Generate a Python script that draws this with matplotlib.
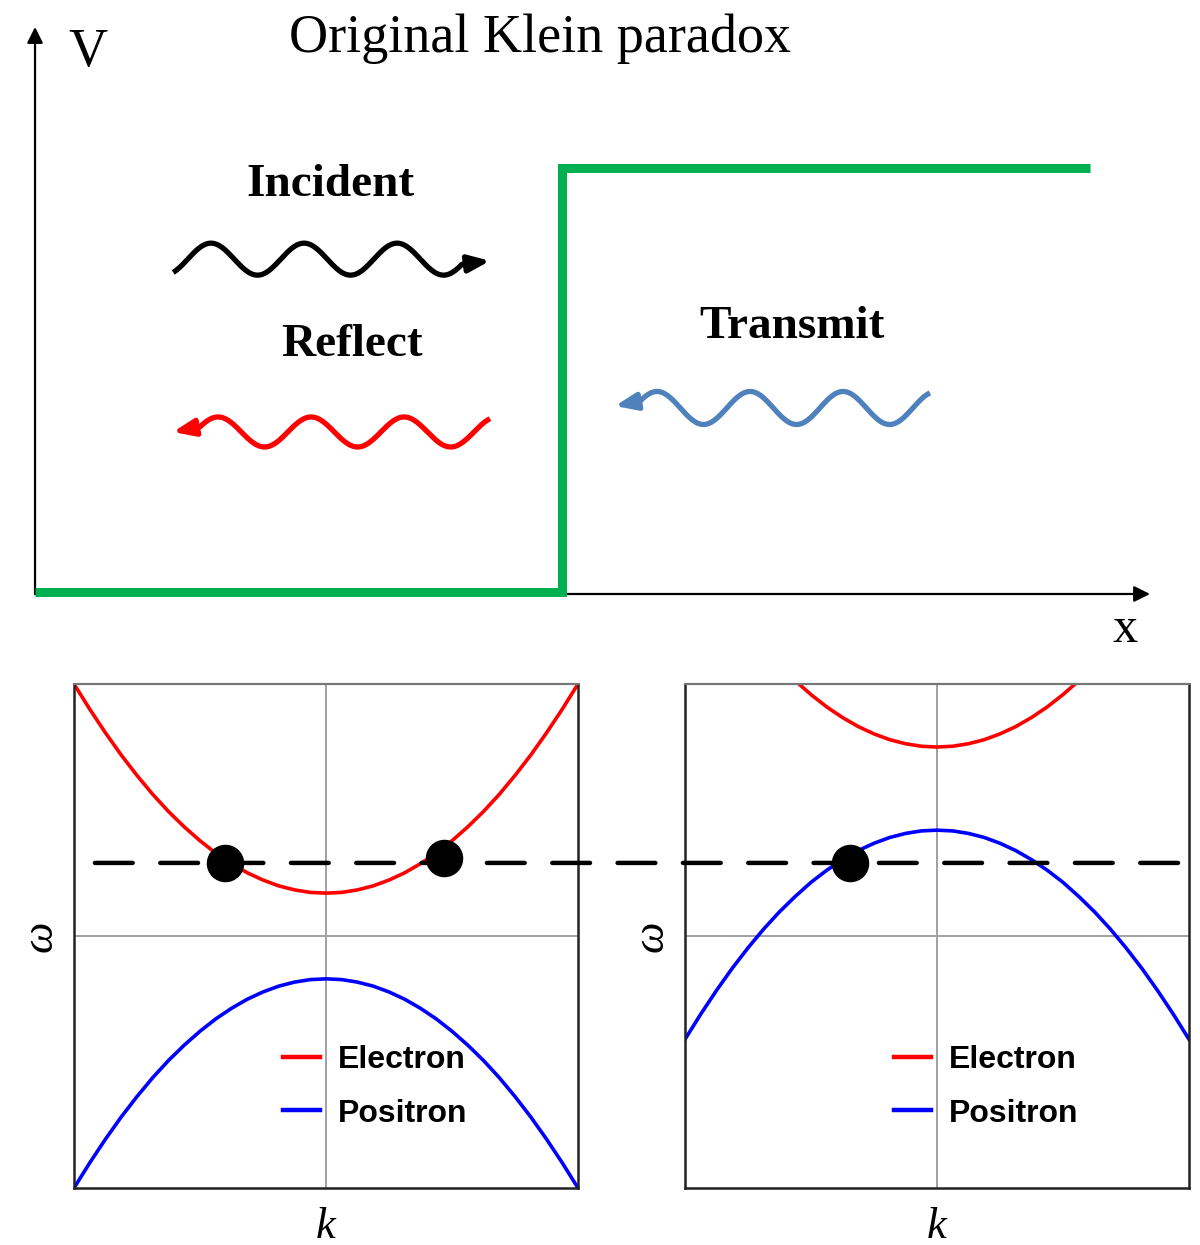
import matplotlib
matplotlib.use("Agg")
import matplotlib.pyplot as plt
from matplotlib.patches import ConnectionPatch
import numpy as np

# potential step (x in units of the drawn length, V in units of V0)
step_x = [0.0, 0.5, 0.5, 1.0]
step_v = [0.0, 0.0, 1.0, 1.0]

# dispersion curves
k = [-1.0, -0.9375, -0.875, -0.8125, -0.75, -0.6875, -0.625, -0.5625, -0.5,
     -0.4375, -0.375, -0.3125, -0.25, -0.1875, -0.125, -0.0625, 0.0,
     0.0625, 0.125, 0.1875, 0.25, 0.3125, 0.375, 0.4375, 0.5,
     0.5625, 0.625, 0.6875, 0.75, 0.8125, 0.875, 0.9375, 1.0]
electron_left = [1.000, 0.900, 0.806, 0.718, 0.637, 0.562, 0.494, 0.433, 0.378,
                 0.329, 0.287, 0.251, 0.222, 0.199, 0.183, 0.173, 0.170,
                 0.173, 0.183, 0.199, 0.222, 0.251, 0.287, 0.329, 0.378,
                 0.433, 0.494, 0.562, 0.637, 0.718, 0.806, 0.900, 1.000]
positron_left = [-1.000, -0.900, -0.806, -0.718, -0.637, -0.562, -0.494, -0.433, -0.378,
                 -0.329, -0.287, -0.251, -0.222, -0.199, -0.183, -0.173, -0.170,
                 -0.173, -0.183, -0.199, -0.222, -0.251, -0.287, -0.329, -0.378,
                 -0.433, -0.494, -0.562, -0.637, -0.718, -0.806, -0.900, -1.000]
electron_right = [1.580, 1.480, 1.386, 1.298, 1.217, 1.142, 1.074, 1.013, 0.958,
                  0.909, 0.867, 0.831, 0.802, 0.779, 0.763, 0.753, 0.750,
                  0.753, 0.763, 0.779, 0.802, 0.831, 0.867, 0.909, 0.958,
                  1.013, 1.074, 1.142, 1.217, 1.298, 1.386, 1.480, 1.580]
positron_right = [-0.410, -0.310, -0.216, -0.128, -0.047, 0.028, 0.096, 0.157, 0.213,
                  0.261, 0.303, 0.339, 0.368, 0.391, 0.407, 0.417, 0.420,
                  0.417, 0.407, 0.391, 0.368, 0.339, 0.303, 0.261, 0.213,
                  0.157, 0.096, 0.028, -0.047, -0.128, -0.216, -0.310, -0.410]
energy_level = 0.29
dots_left_k = [-0.40, 0.47]
dots_left_w = [0.29, 0.31]
dots_right_k = [-0.345]
dots_right_w = [0.29]

serif = "Liberation Serif"
sans = "Liberation Sans"
green = "#00B050"
wave_blue = "#4F81BD"

fig = plt.figure(figsize=(12, 12.45), dpi=100)

# ---- top: Klein step sketch ----
ax0 = fig.add_axes([0, 595 / 1245, 1, 650 / 1245])
ax0.set_xlim(-0.0332, 1.1043)
ax0.set_ylim(-0.1368, 1.3962)
ax0.axis("off")

ax0.annotate("", xy=(0, 1.3325), xytext=(0, -0.0047),
             arrowprops=dict(arrowstyle="-|>", lw=1.6, color="black",
                             mutation_scale=24, shrinkA=0, shrinkB=0))
ax0.annotate("", xy=(1.0569, -0.0047), xytext=(0, -0.0047),
             arrowprops=dict(arrowstyle="-|>", lw=1.6, color="black",
                             mutation_scale=24, shrinkA=0, shrinkB=0))
ax0.plot(step_x, step_v, color=green, lw=6.5, solid_joinstyle="miter",
         solid_capstyle="butt", zorder=3)

ax0.text(0.0502, 1.272, "V", family=serif, fontsize=39, ha="center", va="center")
ax0.text(1.0332, -0.0896, "x", family=serif, fontsize=36, ha="center", va="center")
ax0.text(0.4787, 1.305, "Original Klein paradox", family=serif, fontsize=39,
         ha="center", va="center")
ax0.text(0.2796, 0.960, "Incident", family=serif, fontsize=34, weight="bold",
         ha="center", va="center")
ax0.text(0.3005, 0.5825, "Reflect", family=serif, fontsize=34, weight="bold",
         ha="center", va="center")
ax0.text(0.7175, 0.625, "Transmit", family=serif, fontsize=34, weight="bold",
         ha="center", va="center")


def wave(x0, x1, vc, amp, lam, xpk, tip, color):
    xs = np.linspace(x0, x1, 200)
    ys = vc + amp * np.cos(2 * np.pi * (xs - xpk) / lam)
    ax0.plot(xs, ys, color=color, lw=3.8, solid_capstyle="butt")
    if tip[0] > x1:
        start = (xs[-1], ys[-1])
    else:
        start = (xs[0], ys[0])
    ax0.annotate("", xy=tip, xytext=start,
                 arrowprops=dict(arrowstyle="-|>,head_length=0.75,head_width=0.3",
                                 lw=3.8, color=color,
                                 mutation_scale=17, shrinkA=0, shrinkB=0))


wave(0.131, 0.4047, 0.785, 0.0377, 0.0882, 0.1668, (0.4313, 0.781), "black")
wave(0.1564, 0.4313, 0.3774, 0.0354, 0.0882, 0.1735, (0.1308, 0.3774), "red")
wave(0.5735, 0.8483, 0.434, 0.0389, 0.0882, 0.5896, (0.5498, 0.4387), wave_blue)

# ---- bottom: dispersion panels ----
ax1 = fig.add_axes([74 / 1200, 57 / 1245, 504 / 1200, 504 / 1245])
ax2 = fig.add_axes([685 / 1200, 57 / 1245, 504 / 1200, 504 / 1245])

panels = [(ax1, electron_left, positron_left, dots_left_k, dots_left_w),
          (ax2, electron_right, positron_right, dots_right_k, dots_right_w)]
for ax, e, p, dk, dw in panels:
    ax.set_facecolor("none")
    ax.set_xlim(-1, 1)
    ax.set_ylim(-1, 1)
    ax.set_xticks([])
    ax.set_yticks([])
    ax.axhline(0, color="#a0a0a0", lw=1.4, zorder=1)
    ax.axvline(0, color="#a0a0a0", lw=1.4, zorder=1)
    ax.plot(k, e, color="red", lw=2.6, label="Electron", zorder=2)
    ax.plot(k, p, color="blue", lw=2.6, label="Positron", zorder=2)
    ax.plot(dk, dw, "o", color="black", ms=26, zorder=5)
    for side in ["left", "right", "bottom"]:
        ax.spines[side].set_color("#222222")
        ax.spines[side].set_linewidth(1.8)
    ax.spines["top"].set_color("#777777")
    ax.spines["top"].set_linewidth(1.6)
    ax.set_xlabel("k", fontsize=32, family=serif, style="italic", labelpad=14)
    ax.set_ylabel("ω", fontsize=32, family=serif, style="italic", labelpad=10)
    leg = ax.legend(loc="upper left", bbox_to_anchor=(0.415, 0.284), frameon=False,
                    handlelength=1.15, handletextpad=0.55, labelspacing=0.74,
                    borderpad=0, borderaxespad=0,
                    prop=dict(family=sans, weight="bold", size=23))
    for line in leg.get_lines():
        line.set_linewidth(3.2)

dash = ConnectionPatch(xyA=(-0.917, energy_level), coordsA=ax1.transData,
                       xyB=(1.0, energy_level), coordsB=ax2.transData,
                       color="black", lw=3.2, linestyle=(0, (8.5, 6.2)), zorder=4)
fig.add_artist(dash)

fig.savefig("out.png", dpi=100, facecolor="white")
